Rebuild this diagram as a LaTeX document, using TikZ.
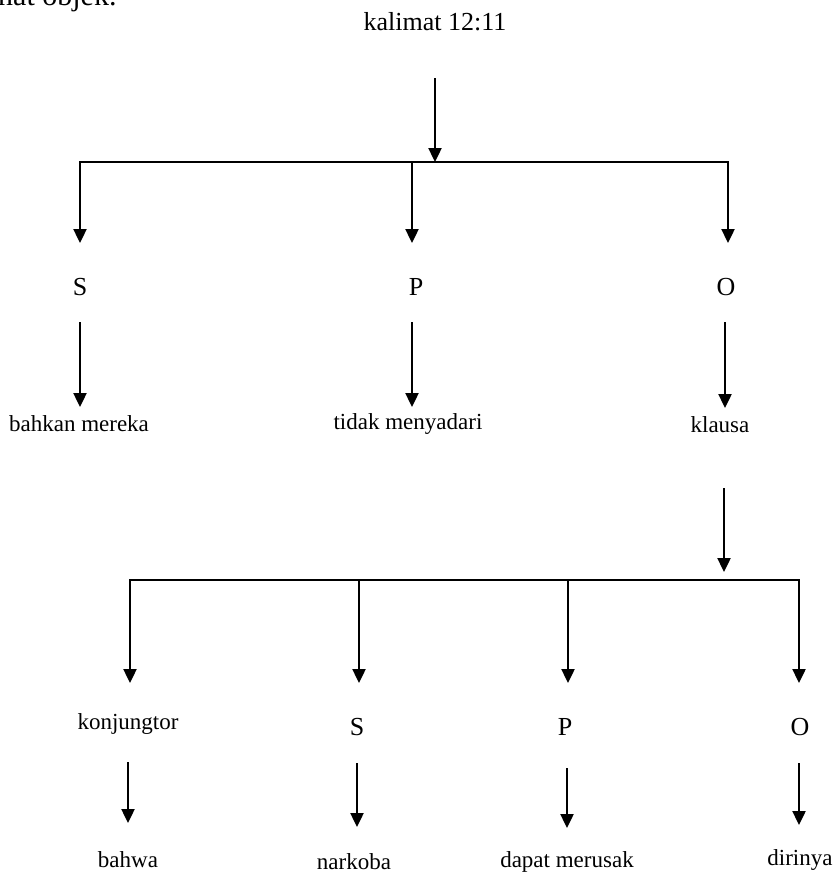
\documentclass[tikz,border=0pt]{standalone}
\usepackage{fontspec}
\setmainfont{Liberation Serif}
\usetikzlibrary{arrows.meta}
\begin{document}
\begin{tikzpicture}[x=1pt,y=-1pt,
  arr/.style={line width=2.4pt,-{Triangle[width=13pt,length=14pt]}},
  bar/.style={line width=2.4pt},
  big/.style={font=\fontsize{26}{30}\selectfont,inner sep=0pt},
  lab/.style={font=\fontsize{23}{27}\selectfont,inner sep=0pt}]
\useasboundingbox (0,0) rectangle (840,883);
\fill[white] (0,0) rectangle (840,883);
% partial text at top left
\node[anchor=base west,inner sep=0pt,font=\fontsize{30}{34}\selectfont] (top) at (-2,6) {nat objek.};
% level 0
\node[big] (k) at (435,22) {kalimat 12:11};
\coordinate (k1) at (435,78);
\coordinate (j0) at (435,162);
\draw[arr] (k1) -- (j0);
\coordinate (a1) at (80,162);
\coordinate (a2) at (412,162);
\coordinate (a3) at (728,162);
\draw[bar,line cap=rect] (a1) -- (a3);
\coordinate (t1) at (80,243);
\coordinate (t2) at (412,243);
\coordinate (t3) at (728,243);
\draw[arr] (a1) -- (t1);
\draw[arr] (a2) -- (t2);
\draw[arr] (a3) -- (t3);
% level 1
\node[big] (S1) at (80,287) {S};
\node[big] (P1) at (416,287) {P};
\node[big] (O1) at (726,287) {O};
\coordinate (s1a) at (80,322);  \coordinate (s1b) at (80,407);
\coordinate (p1a) at (412,322); \coordinate (p1b) at (412,407);
\coordinate (o1a) at (725,322); \coordinate (o1b) at (725,408);
\draw[arr] (s1a) -- (s1b);
\draw[arr] (p1a) -- (p1b);
\draw[arr] (o1a) -- (o1b);
% level 2
\node[lab] (L1) at (79,424) {bahkan mereka};
\node[lab] (L2) at (408,424) {tidak menyadari};
\node[lab] (L3) at (720,425) {klausa};
\coordinate (q1) at (724,488);
\coordinate (q2) at (724,572);
\draw[arr] (q1) -- (q2);
\coordinate (b1) at (130,580);
\coordinate (b2) at (359,580);
\coordinate (b3) at (568,580);
\coordinate (b4) at (799,580);
\draw[bar,line cap=rect] (b1) -- (b4);
\coordinate (u1) at (130,683);
\coordinate (u2) at (359,683);
\coordinate (u3) at (568,683);
\coordinate (u4) at (799,683);
\draw[arr] (b1) -- (u1);
\draw[arr] (b2) -- (u2);
\draw[arr] (b3) -- (u3);
\draw[arr] (b4) -- (u4);
% level 3
\node[lab] (K) at (128,724) {konjungtor};
\node[big] (S2) at (357,727) {S};
\node[big] (P2) at (565,727) {P};
\node[big] (O2) at (800,727) {O};
\coordinate (v1a) at (128,762); \coordinate (v1b) at (128,823);
\coordinate (v2a) at (357,763); \coordinate (v2b) at (357,827);
\coordinate (v3a) at (567,768); \coordinate (v3b) at (567,828);
\coordinate (v4a) at (799,763); \coordinate (v4b) at (799,825);
\draw[arr] (v1a) -- (v1b);
\draw[arr] (v2a) -- (v2b);
\draw[arr] (v3a) -- (v3b);
\draw[arr] (v4a) -- (v4b);
% level 4
\node[lab] (W1) at (128,860) {bahwa};
\node[lab] (W2) at (354,862) {narkoba};
\node[lab] (W3) at (567,862) {dapat merusak};
\node[lab] (W4) at (800,860) {dirinya};
\end{tikzpicture}
\end{document}
